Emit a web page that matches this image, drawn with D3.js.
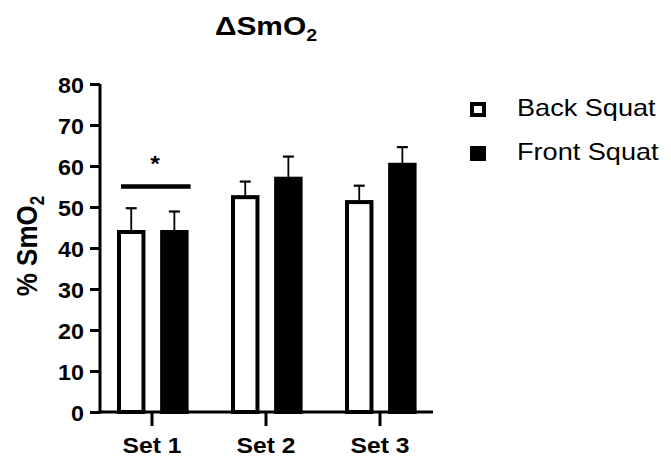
<!DOCTYPE html>
<html>
<head>
<meta charset="utf-8">
<script src="https://cdn.jsdelivr.net/npm/d3@7"></script>
<style>
  body { margin: 0; background: #fff; }
  text { font-family: "Liberation Sans", Arial, sans-serif; fill: #000; }
</style>
</head>
<body>
<svg id="chart" width="671" height="467"></svg>
<script>
// data
const sets = ["Set 1", "Set 2", "Set 3"];
const groups = ["Back Squat", "Front Squat"];
const backMean = [43.9, 52.4, 51.2];
const backSD = [5.8, 3.8, 4.0];
const frontMean = [43.9, 56.9, 60.3];
const frontSD = [5.0, 5.4, 4.3];
const yTicks = [0, 10, 20, 30, 40, 50, 60, 70, 80];

const rows = sets.map((s, i) => ({
    set: s,
    vals: [
        { g: groups[0], mean: backMean[i], sd: backSD[i] },
        { g: groups[1], mean: frontMean[i], sd: frontSD[i] }
    ]
}));

const svg = d3.select("#chart");
const SX = 1.12; // the original picture is a little wider than tall

const plotL = 100, plotR = 433, plotT = 84, plotB = 412;

const y = d3.scaleLinear().domain([0, 80]).range([plotB, plotT]);
const x = d3.scaleBand().domain(sets).range([95, 437]).padding(0);
const xSub = d3.scaleBand().domain(groups).range([22, 93.6]).paddingInner(0.34);
const bw = xSub.bandwidth();

// y axis
const yAxis = svg.append("g")
    .attr("transform", `translate(${plotL},0)`)
    .call(d3.axisLeft(y).tickValues(yTicks).tickSize(10).tickSizeOuter(0));
yAxis.select(".domain").remove();
yAxis.selectAll(".tick line").attr("stroke", "#000").attr("stroke-width", 3);
yAxis.selectAll(".tick text")
    .attr("x", 0).attr("dy", "0.37em")
    .attr("transform", `translate(-16,0) scale(1.06,1)`)
    .style("font-size", "22px").style("font-weight", "bold")
    .style("font-family", "'Liberation Sans', Arial, sans-serif");
svg.append("line")
    .attr("x1", plotL).attr("x2", plotL)
    .attr("y1", plotT).attr("y2", plotB + 1.5)
    .attr("stroke", "#000").attr("stroke-width", 3);

// x axis
const xAxis = svg.append("g")
    .attr("transform", `translate(0,${plotB})`)
    .call(d3.axisBottom(x).tickSize(14).tickSizeOuter(0));
xAxis.select(".domain").remove();
xAxis.selectAll(".tick line").attr("stroke", "#000").attr("stroke-width", 3);
xAxis.selectAll(".tick text")
    .attr("y", 0).attr("dy", null)
    .attr("transform", `translate(0,41) scale(${SX},1)`)
    .style("font-size", "22px").style("font-weight", "bold")
    .style("font-family", "'Liberation Sans', Arial, sans-serif");
svg.append("line")
    .attr("x1", plotL - 1.5).attr("x2", plotR)
    .attr("y1", plotB).attr("y2", plotB)
    .attr("stroke", "#000").attr("stroke-width", 3);

// bars
const grp = svg.selectAll("g.set")
    .data(rows)
    .enter()
    .append("g")
    .attr("class", "set")
    .attr("transform", d => `translate(${x(d.set)},0)`);

// error bars (upper only), drawn under the bars
grp.selectAll("g.err")
    .data(d => d.vals)
    .enter()
    .append("g")
    .attr("class", "err")
    .each(function (d) {
        const g = d3.select(this);
        const cx = xSub(d.g) + bw / 2;
        g.append("line")
            .attr("x1", cx).attr("x2", cx)
            .attr("y1", y(d.mean)).attr("y2", y(d.mean + d.sd))
            .attr("stroke", "#000").attr("stroke-width", 1.8);
        g.append("line")
            .attr("x1", cx - 5.5).attr("x2", cx + 5.5)
            .attr("y1", y(d.mean + d.sd)).attr("y2", y(d.mean + d.sd))
            .attr("stroke", "#000").attr("stroke-width", 2.2);
    });

grp.selectAll("rect")
    .data(d => d.vals)
    .enter()
    .append("rect")
    .attr("x", d => xSub(d.g) + 2)
    .attr("y", d => y(d.mean))
    .attr("width", bw - 4)
    .attr("height", d => plotB - y(d.mean))
    .attr("fill", d => d.g === groups[0] ? "#fff" : "#000")
    .attr("stroke", "#000")
    .attr("stroke-width", 4);

// significance line over Set 1
const s1 = x(sets[0]);
svg.append("line")
    .attr("x1", s1 + xSub(groups[0]) + 4)
    .attr("x2", s1 + xSub(groups[1]) + bw + 2)
    .attr("y1", y(55)).attr("y2", y(55))
    .attr("stroke", "#000").attr("stroke-width", 4.3);
svg.append("text")
    .attr("transform", `translate(${s1 + x.bandwidth() / 2 + 3},171) scale(${SX},1)`)
    .attr("text-anchor", "middle")
    .style("font-size", "22px").style("font-weight", "bold")
    .text("*");

// title
const title = svg.append("text")
    .attr("transform", `translate(266,35) scale(1.15,1)`)
    .attr("text-anchor", "middle")
    .style("font-size", "26px").style("font-weight", "bold");
title.append("tspan").text("\u0394SmO");
title.append("tspan").attr("dy", 6).style("font-size", "17px").text("2");

// y label
const ylab = svg.append("text")
    .attr("transform", `translate(37,246) scale(1.15,1) rotate(-90)`)
    .attr("text-anchor", "middle")
    .style("font-size", "26px").style("font-weight", "bold");
ylab.append("tspan").text("% SmO");
ylab.append("tspan").attr("dy", 6).style("font-size", "17px").text("2");

// legend
const leg = svg.selectAll("g.leg")
    .data(groups)
    .enter()
    .append("g")
    .attr("class", "leg")
    .attr("transform", (d, i) => `translate(470,${102 + i * 44})`);
leg.append("rect")
    .attr("x", 2).attr("y", 2)
    .attr("width", 12).attr("height", 11)
    .attr("fill", (d, i) => i === 0 ? "#fff" : "#000")
    .attr("stroke", "#000").attr("stroke-width", 4);
leg.append("text")
    .attr("transform", `translate(47,14) scale(1.13,1)`)
    .style("font-size", "24px")
    .text(d => d);
</script>
</body>
</html>
